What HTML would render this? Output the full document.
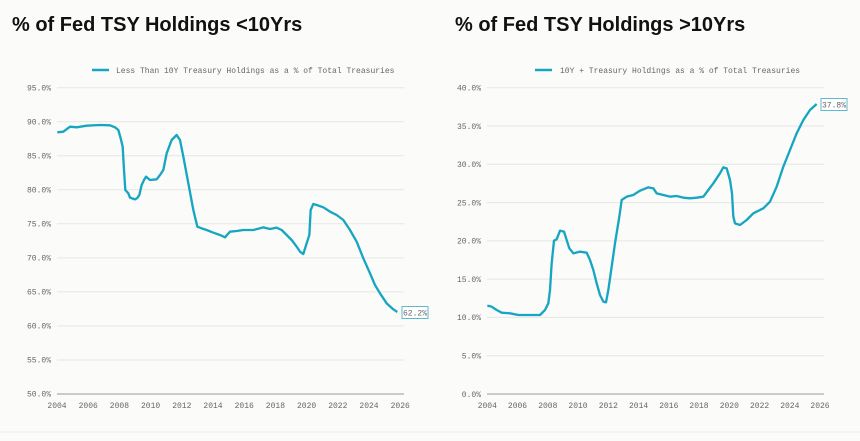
<!DOCTYPE html><html><head><style>
body{margin:0;background:#fbfbf9;width:860px;height:441px;overflow:hidden;font-family:"Liberation Sans",sans-serif}
svg{position:absolute;left:0;top:0}
.t{font-weight:bold;font-size:20px;fill:#111}
.m{font-family:"Liberation Mono",monospace;font-size:8px;fill:#666}
.g{stroke:#e6e6e6;stroke-width:1}
</style></head><body>
<svg width="860" height="441" viewBox="0 0 860 441">
<text class="t" x="12" y="31">% of Fed TSY Holdings &lt;10Yrs</text>
<text class="t" x="455" y="31">% of Fed TSY Holdings &gt;10Yrs</text>
<line x1="0" y1="432" x2="860" y2="432" stroke="#eee"/>
<g id="L">
<line x1="92" y1="70" x2="109" y2="70" stroke="#17a6c2" stroke-width="2.5"/>
<text class="m" x="116" y="73">Less Than 10Y Treasury Holdings as a % of Total Treasuries</text>
<g class="g">
<line x1="57" x2="404" y1="87.7" y2="87.7"/><line x1="57" x2="404" y1="121.7" y2="121.7"/><line x1="57" x2="404" y1="155.8" y2="155.8"/><line x1="57" x2="404" y1="189.8" y2="189.8"/><line x1="57" x2="404" y1="223.8" y2="223.8"/><line x1="57" x2="404" y1="257.9" y2="257.9"/><line x1="57" x2="404" y1="291.9" y2="291.9"/><line x1="57" x2="404" y1="325.9" y2="325.9"/><line x1="57" x2="404" y1="360" y2="360"/>
</g>
<line x1="57" x2="404" y1="394" y2="394" stroke="#999"/>
<g class="m" text-anchor="end">
<text x="51" y="90.5">95.0%</text><text x="51" y="124.5">90.0%</text><text x="51" y="158.5">85.0%</text><text x="51" y="192.5">80.0%</text><text x="51" y="226.5">75.0%</text><text x="51" y="260.5">70.0%</text><text x="51" y="294.5">65.0%</text><text x="51" y="328.5">60.0%</text><text x="51" y="362.5">55.0%</text><text x="51" y="396.5">50.0%</text>
</g>
<g class="m" text-anchor="middle">
<text x="57" y="408">2004</text><text x="88.2" y="408">2006</text><text x="119.4" y="408">2008</text><text x="150.6" y="408">2010</text><text x="181.8" y="408">2012</text><text x="213" y="408">2014</text><text x="244.2" y="408">2016</text><text x="275.4" y="408">2018</text><text x="306.6" y="408">2020</text><text x="337.8" y="408">2022</text><text x="369" y="408">2024</text><text x="400.2" y="408">2026</text>
</g>
<polyline transform="translate(0,50) scale(0.33333)" fill="none" stroke="#17a6c2" stroke-width="7" stroke-linejoin="round" points="172,247 190,245 210,230 230,232 260,227 300,225 330,226 345,232 355,240 362,265 368,290 372,360 376,420 385,430 390,443 405,448 412,444 418,435 425,405 432,390 438,380 450,390 470,388 480,375 490,360 500,310 515,270 530,255 540,270 550,320 565,400 580,480 592,530 605,535 620,540 640,548 660,555 675,562 690,545 710,543 730,540 760,540 790,532 810,537 830,533 845,540 860,555 875,570 890,590 900,605 910,612 920,580 928,555 932,480 940,462 950,465 970,472 990,485 1010,495 1030,510 1050,540 1070,575 1090,625 1110,670 1125,705 1140,730 1160,760 1180,778 1192,786"/>
<rect x="402" y="306.5" width="26" height="12" fill="#fff" stroke="#5fb9cc"/>
<text class="m" x="415" y="315.5" text-anchor="middle" fill="#555">62.2%</text>
</g>
<line x1="535" y1="70" x2="552" y2="70" stroke="#17a6c2" stroke-width="2.5"/>
<text class="m" x="560" y="73">10Y + Treasury Holdings as a % of Total Treasuries</text>
<g class="g">
<line x1="487" x2="824" y1="87.7" y2="87.7"/><line x1="487" x2="824" y1="126" y2="126"/><line x1="487" x2="824" y1="164.3" y2="164.3"/><line x1="487" x2="824" y1="202.6" y2="202.6"/><line x1="487" x2="824" y1="240.9" y2="240.9"/><line x1="487" x2="824" y1="279.1" y2="279.1"/><line x1="487" x2="824" y1="317.4" y2="317.4"/><line x1="487" x2="824" y1="355.7" y2="355.7"/>
</g>
<line x1="487" x2="824" y1="394" y2="394" stroke="#999"/>
<g class="m" text-anchor="end">
<text x="481" y="90.5">40.0%</text><text x="481" y="128.8">35.0%</text><text x="481" y="167.1">30.0%</text><text x="481" y="205.4">25.0%</text><text x="481" y="243.7">20.0%</text><text x="481" y="281.9">15.0%</text><text x="481" y="320.2">10.0%</text><text x="481" y="358.5">5.0%</text><text x="481" y="396.8">0.0%</text>
</g>
<g class="m" text-anchor="middle">
<text x="487.3" y="408">2004</text><text x="517.5" y="408">2006</text><text x="547.8" y="408">2008</text><text x="578" y="408">2010</text><text x="608.3" y="408">2012</text><text x="638.6" y="408">2014</text><text x="668.8" y="408">2016</text><text x="699" y="408">2018</text><text x="729.3" y="408">2020</text><text x="759.6" y="408">2022</text><text x="789.8" y="408">2024</text><text x="820" y="408">2026</text>
</g>
<polyline transform="translate(430,50) scale(0.33333)" fill="none" stroke="#17a6c2" stroke-width="7" stroke-linejoin="round" points="172,767 185,770 200,780 215,788 240,790 265,795 290,795 310,795 330,795 345,780 355,760 360,720 365,640 372,572 380,568 390,542 402,545 410,570 418,595 430,610 450,605 470,608 480,630 490,660 500,700 510,735 520,755 528,757 535,720 545,650 555,580 568,500 575,450 590,440 610,435 630,422 655,412 670,415 680,430 700,435 720,440 740,438 760,443 780,445 800,443 820,440 835,420 850,400 870,370 880,352 890,355 900,390 906,430 910,500 915,520 930,525 950,510 970,490 1000,475 1020,455 1040,410 1060,350 1080,300 1100,250 1120,210 1140,180 1160,162"/>
<rect x="821" y="98.5" width="26" height="12" fill="#fff" stroke="#5fb9cc"/>
<text class="m" x="834" y="107.5" text-anchor="middle" fill="#555">37.8%</text>
</svg>
</body></html>
